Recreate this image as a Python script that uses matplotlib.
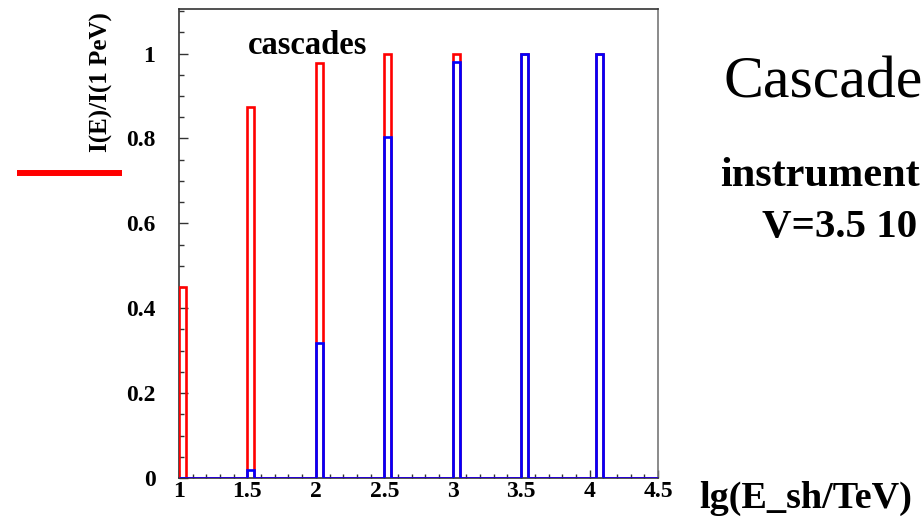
import numpy as np
import matplotlib
matplotlib.use("Agg")
import matplotlib.pyplot as plt
from matplotlib.lines import Line2D
from matplotlib.ticker import MultipleLocator

# Fraction of flux I(E)/I(1 PeV) per shower-energy bin (bin width 0.05 in lg E)
bin_lo = [1.0, 1.5, 2.0, 2.5, 3.0, 3.5, 4.05]
red_vals = [0.45, 0.875, 0.978, 1.0, 1.0, 1.0, 1.0]
blue_vals = [0.0, 0.02, 0.318, 0.803, 0.98, 1.0, 1.0]

x_ticks = [1, 1.5, 2, 2.5, 3, 3.5, 4, 4.5]
x_ticklabels = ["1", "1.5", "2", "2.5", "3", "3.5", "4", "4.5"]
y_ticks = [0, 0.2, 0.4, 0.6, 0.8, 1.0]
y_ticklabels = ["0", "0.2", "0.4", "0.6", "0.8", "1"]

BIN_W = 0.05
SERIF = ["Liberation Serif", "DejaVu Serif"]

fig = plt.figure(figsize=(9.22, 5.17), dpi=100)
ax = fig.add_axes([179 / 922, 1 - 478 / 517, (658 - 179) / 922, (478 - 9) / 517])

edges = np.round(np.arange(1.0, 4.5 + BIN_W / 2, BIN_W), 4)
centers = np.array(bin_lo) + BIN_W / 2
ax.hist(centers, bins=edges, weights=red_vals, histtype="step",
        color="#ff0000", lw=1.9, zorder=3)
ax.hist(centers, bins=edges, weights=blue_vals, histtype="step",
        color="#0000ff", lw=1.9, zorder=4)

ax.set_xlim(1.0, 4.5)
ax.set_ylim(0, 1.105)

ax.set_xticks(x_ticks)
ax.set_xticklabels(x_ticklabels)
ax.set_yticks(y_ticks)
ax.set_yticklabels(y_ticklabels)
ax.xaxis.set_minor_locator(MultipleLocator(0.1))
ax.yaxis.set_minor_locator(MultipleLocator(0.05))

ax.tick_params(axis="both", which="both", direction="in", color="#333333",
               top=False, right=False)
ax.tick_params(axis="y", which="major", length=6.5, width=1, pad=17)
ax.tick_params(axis="y", which="minor", length=3.6, width=1)
ax.tick_params(axis="x", which="major", length=5.8, width=1, pad=2)
ax.tick_params(axis="x", which="minor", length=3.2, width=1)

for lab in ax.get_xticklabels() + ax.get_yticklabels():
    lab.set_family(SERIF)
    lab.set_fontweight("bold")
    lab.set_fontsize(17)

for side, sp in ax.spines.items():
    sp.set_color("#333333")
    sp.set_linewidth(1.2)
ax.spines["right"].set_color("#777777")

ax.text(1.5, 1.0, "cascades", family=SERIF, fontweight="bold",
        fontsize=23.5, va="baseline", ha="left")

fig.text(101 / 922, 1 - 82 / 517, "I(E)/I(1 PeV)", family=SERIF,
         fontweight="bold", fontsize=18, rotation=90, ha="center", va="center")
fig.text(699 / 922, 1 - 508 / 517, "lg(E_sh/TeV)", family=SERIF,
         fontweight="bold", fontsize=27.5, ha="left", va="baseline")

fig.text(723 / 922, 1 - 97 / 517, "Cascade", family=SERIF,
         fontsize=43, ha="left", va="baseline")
fig.text(720 / 922, 1 - 186 / 517, "instrument", family=SERIF,
         fontweight="bold", fontsize=30.5, ha="left", va="baseline")
fig.text(762 / 922, 1 - 237 / 517, "V=3.5 10", family=SERIF,
         fontweight="bold", fontsize=29.5, ha="left", va="baseline")

# red legend stroke at the left margin
fig.add_artist(Line2D([17 / 922, 122 / 922], [1 - 173 / 517, 1 - 173 / 517],
                      transform=fig.transFigure, color="#ff0000", lw=4.3,
                      solid_capstyle="butt"))

fig.savefig("out.png", dpi=100)
